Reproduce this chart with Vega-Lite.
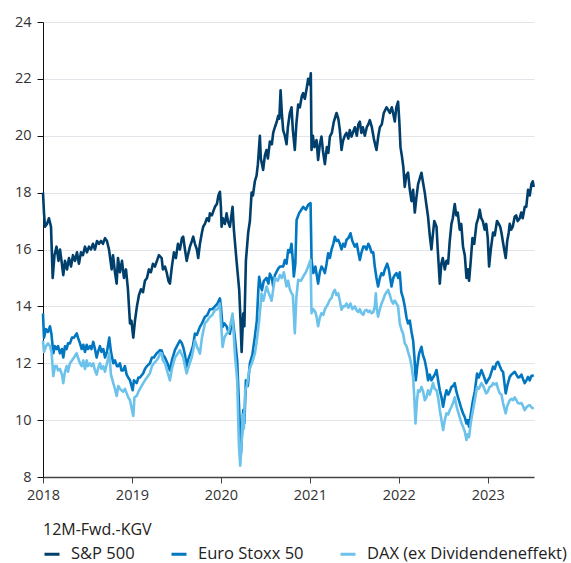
{
"$schema": "https://vega.github.io/schema/vega-lite/v6.json",
"width": 491, "height": 455,
"autosize": "none",
"padding": {"left": 43, "top": 22, "right": 37, "bottom": 86},
"config": {"font": "Open Sans", "view": {"stroke": null}},
"datasets": {
"sp": [
{"t":2018.000,"v":18.0},{"t":2018.011,"v":17.3},{"t":2018.022,"v":16.8},{"t":2018.045,"v":16.9},{"t":2018.067,"v":17.1},{"t":2018.090,"v":16.8},{"t":2018.109,"v":15.0},{"t":2018.129,"v":15.8},{"t":2018.152,"v":16.1},{"t":2018.174,"v":15.6},{"t":2018.191,"v":16.0},{"t":2018.208,"v":15.6},{"t":2018.228,"v":15.1},{"t":2018.247,"v":15.6},{"t":2018.270,"v":15.3},{"t":2018.292,"v":15.7},{"t":2018.315,"v":15.4},{"t":2018.337,"v":15.8},{"t":2018.360,"v":15.6},{"t":2018.382,"v":15.9},{"t":2018.404,"v":15.5},{"t":2018.427,"v":15.9},{"t":2018.449,"v":15.8},{"t":2018.472,"v":16.1},{"t":2018.494,"v":15.9},{"t":2018.517,"v":16.1},{"t":2018.539,"v":16.0},{"t":2018.562,"v":16.2},{"t":2018.584,"v":16.0},{"t":2018.607,"v":16.3},{"t":2018.629,"v":16.2},{"t":2018.652,"v":16.3},{"t":2018.674,"v":16.2},{"t":2018.697,"v":16.4},{"t":2018.719,"v":16.3},{"t":2018.742,"v":16.0},{"t":2018.772,"v":15.3},{"t":2018.787,"v":15.8},{"t":2018.809,"v":15.2},{"t":2018.828,"v":14.8},{"t":2018.843,"v":15.7},{"t":2018.865,"v":15.2},{"t":2018.888,"v":15.6},{"t":2018.910,"v":15.0},{"t":2018.933,"v":15.3},{"t":2018.955,"v":14.6},{"t":2018.978,"v":13.4},{"t":2018.994,"v":13.5},{"t":2019.015,"v":12.9},{"t":2019.034,"v":13.5},{"t":2019.056,"v":14.0},{"t":2019.079,"v":14.4},{"t":2019.101,"v":14.6},{"t":2019.124,"v":14.5},{"t":2019.146,"v":14.9},{"t":2019.169,"v":15.0},{"t":2019.191,"v":15.3},{"t":2019.213,"v":15.2},{"t":2019.236,"v":15.5},{"t":2019.258,"v":15.4},{"t":2019.281,"v":15.6},{"t":2019.303,"v":15.8},{"t":2019.334,"v":15.7},{"t":2019.348,"v":15.3},{"t":2019.371,"v":15.4},{"t":2019.390,"v":15.2},{"t":2019.410,"v":14.9},{"t":2019.427,"v":14.8},{"t":2019.449,"v":15.4},{"t":2019.472,"v":15.9},{"t":2019.494,"v":15.7},{"t":2019.517,"v":16.2},{"t":2019.539,"v":16.0},{"t":2019.562,"v":16.4},{"t":2019.576,"v":16.45},{"t":2019.596,"v":16.0},{"t":2019.615,"v":15.6},{"t":2019.629,"v":15.8},{"t":2019.652,"v":16.1},{"t":2019.674,"v":16.3},{"t":2019.689,"v":16.45},{"t":2019.708,"v":16.2},{"t":2019.730,"v":16.0},{"t":2019.745,"v":15.7},{"t":2019.764,"v":16.2},{"t":2019.787,"v":16.6},{"t":2019.801,"v":16.8},{"t":2019.820,"v":16.9},{"t":2019.843,"v":17.1},{"t":2019.865,"v":17.0},{"t":2019.876,"v":17.27},{"t":2019.899,"v":17.2},{"t":2019.921,"v":17.4},{"t":2019.933,"v":17.5},{"t":2019.955,"v":17.6},{"t":2019.972,"v":17.9},{"t":2019.989,"v":18.03},{"t":2020.000,"v":17.5},{"t":2020.008,"v":16.8},{"t":2020.022,"v":17.1},{"t":2020.045,"v":16.9},{"t":2020.064,"v":17.27},{"t":2020.079,"v":17.0},{"t":2020.101,"v":16.8},{"t":2020.118,"v":17.2},{"t":2020.131,"v":17.5},{"t":2020.146,"v":16.7},{"t":2020.176,"v":15.6},{"t":2020.206,"v":14.57},{"t":2020.219,"v":13.6},{"t":2020.233,"v":12.4},{"t":2020.251,"v":13.75},{"t":2020.264,"v":13.3},{"t":2020.281,"v":15.6},{"t":2020.307,"v":16.6},{"t":2020.326,"v":17.0},{"t":2020.345,"v":18.0},{"t":2020.360,"v":17.9},{"t":2020.382,"v":18.4},{"t":2020.401,"v":18.6},{"t":2020.416,"v":19.0},{"t":2020.438,"v":20.0},{"t":2020.449,"v":19.2},{"t":2020.475,"v":18.8},{"t":2020.494,"v":19.3},{"t":2020.513,"v":19.5},{"t":2020.528,"v":19.2},{"t":2020.551,"v":19.8},{"t":2020.573,"v":19.7},{"t":2020.588,"v":20.1},{"t":2020.607,"v":20.3},{"t":2020.629,"v":20.5},{"t":2020.644,"v":20.7},{"t":2020.657,"v":20.6},{"t":2020.671,"v":21.6},{"t":2020.685,"v":20.8},{"t":2020.700,"v":20.2},{"t":2020.719,"v":20.0},{"t":2020.738,"v":19.7},{"t":2020.753,"v":20.3},{"t":2020.775,"v":20.8},{"t":2020.794,"v":21.0},{"t":2020.809,"v":20.2},{"t":2020.831,"v":19.5},{"t":2020.848,"v":20.4},{"t":2020.869,"v":21.1},{"t":2020.888,"v":21.0},{"t":2020.910,"v":21.4},{"t":2020.925,"v":21.5},{"t":2020.944,"v":21.3},{"t":2020.966,"v":21.7},{"t":2020.981,"v":22.0},{"t":2021.000,"v":21.8},{"t":2021.011,"v":22.2},{"t":2021.019,"v":19.5},{"t":2021.034,"v":20.0},{"t":2021.051,"v":19.6},{"t":2021.075,"v":19.85},{"t":2021.093,"v":19.15},{"t":2021.112,"v":19.7},{"t":2021.131,"v":19.97},{"t":2021.146,"v":19.5},{"t":2021.169,"v":19.0},{"t":2021.191,"v":19.6},{"t":2021.208,"v":19.4},{"t":2021.225,"v":19.97},{"t":2021.247,"v":20.1},{"t":2021.270,"v":20.5},{"t":2021.300,"v":20.8},{"t":2021.320,"v":20.6},{"t":2021.337,"v":20.2},{"t":2021.356,"v":19.5},{"t":2021.371,"v":19.8},{"t":2021.393,"v":20.0},{"t":2021.412,"v":20.1},{"t":2021.433,"v":19.9},{"t":2021.449,"v":20.2},{"t":2021.469,"v":19.97},{"t":2021.483,"v":20.1},{"t":2021.506,"v":20.3},{"t":2021.528,"v":20.0},{"t":2021.545,"v":20.4},{"t":2021.562,"v":20.5},{"t":2021.579,"v":20.1},{"t":2021.596,"v":20.3},{"t":2021.618,"v":20.0},{"t":2021.640,"v":20.3},{"t":2021.657,"v":20.4},{"t":2021.674,"v":20.55},{"t":2021.697,"v":20.3},{"t":2021.719,"v":19.9},{"t":2021.749,"v":19.5},{"t":2021.770,"v":20.0},{"t":2021.787,"v":20.3},{"t":2021.809,"v":20.4},{"t":2021.831,"v":20.8},{"t":2021.862,"v":21.0},{"t":2021.882,"v":20.9},{"t":2021.899,"v":20.8},{"t":2021.921,"v":21.0},{"t":2021.936,"v":20.8},{"t":2021.955,"v":20.5},{"t":2021.972,"v":21.0},{"t":2021.992,"v":21.2},{"t":2022.006,"v":20.5},{"t":2022.019,"v":19.6},{"t":2022.034,"v":19.3},{"t":2022.051,"v":18.9},{"t":2022.067,"v":18.2},{"t":2022.084,"v":18.6},{"t":2022.104,"v":18.7},{"t":2022.124,"v":18.1},{"t":2022.143,"v":17.7},{"t":2022.161,"v":18.1},{"t":2022.180,"v":17.3},{"t":2022.197,"v":17.8},{"t":2022.217,"v":18.3},{"t":2022.236,"v":18.5},{"t":2022.255,"v":18.7},{"t":2022.270,"v":18.4},{"t":2022.292,"v":18.0},{"t":2022.309,"v":17.6},{"t":2022.329,"v":17.15},{"t":2022.348,"v":16.5},{"t":2022.367,"v":16.0},{"t":2022.382,"v":16.5},{"t":2022.399,"v":17.0},{"t":2022.424,"v":16.8},{"t":2022.438,"v":16.0},{"t":2022.461,"v":14.8},{"t":2022.478,"v":15.5},{"t":2022.494,"v":15.7},{"t":2022.517,"v":15.3},{"t":2022.536,"v":15.6},{"t":2022.554,"v":15.5},{"t":2022.573,"v":16.3},{"t":2022.592,"v":16.9},{"t":2022.607,"v":17.1},{"t":2022.629,"v":17.6},{"t":2022.646,"v":17.2},{"t":2022.663,"v":17.3},{"t":2022.685,"v":16.7},{"t":2022.702,"v":16.9},{"t":2022.722,"v":16.1},{"t":2022.742,"v":15.8},{"t":2022.761,"v":15.0},{"t":2022.775,"v":15.3},{"t":2022.790,"v":14.9},{"t":2022.809,"v":15.6},{"t":2022.828,"v":16.4},{"t":2022.848,"v":16.2},{"t":2022.873,"v":16.9},{"t":2022.893,"v":17.1},{"t":2022.910,"v":17.4},{"t":2022.927,"v":17.1},{"t":2022.944,"v":17.0},{"t":2022.966,"v":16.7},{"t":2022.983,"v":16.9},{"t":2023.000,"v":16.4},{"t":2023.015,"v":15.4},{"t":2023.034,"v":16.0},{"t":2023.060,"v":16.6},{"t":2023.079,"v":16.5},{"t":2023.104,"v":17.0},{"t":2023.124,"v":16.9},{"t":2023.140,"v":16.8},{"t":2023.154,"v":16.6},{"t":2023.169,"v":16.3},{"t":2023.185,"v":16.0},{"t":2023.202,"v":15.7},{"t":2023.219,"v":16.3},{"t":2023.236,"v":16.6},{"t":2023.247,"v":16.9},{"t":2023.264,"v":16.7},{"t":2023.281,"v":16.8},{"t":2023.303,"v":17.15},{"t":2023.320,"v":17.2},{"t":2023.337,"v":17.0},{"t":2023.360,"v":17.1},{"t":2023.376,"v":17.3},{"t":2023.393,"v":17.1},{"t":2023.416,"v":17.5},{"t":2023.433,"v":17.5},{"t":2023.453,"v":18.1},{"t":2023.472,"v":17.9},{"t":2023.491,"v":18.3},{"t":2023.506,"v":18.4},{"t":2023.517,"v":18.2}
],
"eu": [
{"t":2018.000,"v":13.75},{"t":2018.011,"v":12.9},{"t":2018.034,"v":13.2},{"t":2018.056,"v":13.1},{"t":2018.079,"v":13.3},{"t":2018.096,"v":13.0},{"t":2018.116,"v":12.35},{"t":2018.135,"v":12.6},{"t":2018.154,"v":12.5},{"t":2018.169,"v":12.6},{"t":2018.191,"v":12.35},{"t":2018.213,"v":12.5},{"t":2018.228,"v":12.2},{"t":2018.247,"v":12.6},{"t":2018.266,"v":12.5},{"t":2018.281,"v":12.7},{"t":2018.303,"v":12.7},{"t":2018.326,"v":12.9},{"t":2018.348,"v":12.9},{"t":2018.379,"v":13.05},{"t":2018.393,"v":12.9},{"t":2018.416,"v":12.7},{"t":2018.435,"v":12.5},{"t":2018.453,"v":12.65},{"t":2018.472,"v":12.4},{"t":2018.491,"v":12.65},{"t":2018.506,"v":12.5},{"t":2018.528,"v":12.6},{"t":2018.545,"v":12.5},{"t":2018.565,"v":12.75},{"t":2018.584,"v":12.5},{"t":2018.603,"v":12.2},{"t":2018.618,"v":12.4},{"t":2018.640,"v":12.6},{"t":2018.657,"v":12.4},{"t":2018.678,"v":12.5},{"t":2018.697,"v":12.2},{"t":2018.719,"v":12.4},{"t":2018.745,"v":12.9},{"t":2018.764,"v":12.4},{"t":2018.790,"v":12.0},{"t":2018.809,"v":12.1},{"t":2018.831,"v":11.9},{"t":2018.846,"v":11.9},{"t":2018.865,"v":12.0},{"t":2018.882,"v":11.75},{"t":2018.902,"v":11.75},{"t":2018.921,"v":11.9},{"t":2018.940,"v":11.6},{"t":2018.958,"v":11.5},{"t":2018.978,"v":11.4},{"t":2019.008,"v":11.05},{"t":2019.022,"v":11.4},{"t":2019.053,"v":11.3},{"t":2019.073,"v":11.5},{"t":2019.090,"v":11.5},{"t":2019.127,"v":11.65},{"t":2019.146,"v":11.8},{"t":2019.169,"v":11.9},{"t":2019.202,"v":12.0},{"t":2019.225,"v":12.2},{"t":2019.247,"v":12.2},{"t":2019.278,"v":12.35},{"t":2019.298,"v":12.4},{"t":2019.315,"v":12.46},{"t":2019.334,"v":12.45},{"t":2019.348,"v":12.3},{"t":2019.371,"v":12.2},{"t":2019.399,"v":12.0},{"t":2019.427,"v":11.75},{"t":2019.449,"v":12.1},{"t":2019.483,"v":12.46},{"t":2019.506,"v":12.6},{"t":2019.539,"v":12.8},{"t":2019.562,"v":12.7},{"t":2019.576,"v":12.57},{"t":2019.596,"v":12.3},{"t":2019.615,"v":11.87},{"t":2019.629,"v":12.1},{"t":2019.671,"v":12.46},{"t":2019.685,"v":12.6},{"t":2019.708,"v":13.04},{"t":2019.730,"v":13.0},{"t":2019.764,"v":13.28},{"t":2019.787,"v":13.4},{"t":2019.820,"v":13.63},{"t":2019.848,"v":13.7},{"t":2019.876,"v":13.9},{"t":2019.904,"v":13.9},{"t":2019.933,"v":14.0},{"t":2019.961,"v":14.1},{"t":2019.989,"v":14.28},{"t":2020.000,"v":14.0},{"t":2020.019,"v":13.28},{"t":2020.039,"v":13.4},{"t":2020.064,"v":13.3},{"t":2020.084,"v":13.1},{"t":2020.101,"v":13.04},{"t":2020.131,"v":13.63},{"t":2020.157,"v":12.9},{"t":2020.183,"v":12.1},{"t":2020.206,"v":10.34},{"t":2020.225,"v":8.82},{"t":2020.236,"v":9.4},{"t":2020.251,"v":10.35},{"t":2020.264,"v":9.9},{"t":2020.281,"v":11.4},{"t":2020.303,"v":11.2},{"t":2020.326,"v":12.0},{"t":2020.354,"v":12.3},{"t":2020.382,"v":12.93},{"t":2020.404,"v":13.5},{"t":2020.421,"v":14.6},{"t":2020.430,"v":15.04},{"t":2020.449,"v":14.7},{"t":2020.461,"v":14.57},{"t":2020.483,"v":14.9},{"t":2020.513,"v":15.0},{"t":2020.534,"v":14.8},{"t":2020.551,"v":15.15},{"t":2020.573,"v":15.0},{"t":2020.588,"v":14.7},{"t":2020.607,"v":15.1},{"t":2020.644,"v":15.33},{"t":2020.663,"v":15.4},{"t":2020.700,"v":15.4},{"t":2020.719,"v":15.63},{"t":2020.738,"v":15.5},{"t":2020.756,"v":15.98},{"t":2020.775,"v":15.9},{"t":2020.794,"v":16.2},{"t":2020.809,"v":15.6},{"t":2020.820,"v":15.05},{"t":2020.837,"v":15.5},{"t":2020.851,"v":17.04},{"t":2020.880,"v":17.28},{"t":2020.904,"v":17.4},{"t":2020.925,"v":17.5},{"t":2020.955,"v":17.4},{"t":2020.981,"v":17.57},{"t":2021.008,"v":17.63},{"t":2021.019,"v":15.63},{"t":2021.039,"v":15.17},{"t":2021.062,"v":15.4},{"t":2021.093,"v":14.8},{"t":2021.112,"v":15.2},{"t":2021.131,"v":15.4},{"t":2021.152,"v":15.3},{"t":2021.169,"v":15.17},{"t":2021.188,"v":15.5},{"t":2021.206,"v":15.87},{"t":2021.225,"v":15.7},{"t":2021.244,"v":16.0},{"t":2021.264,"v":16.2},{"t":2021.281,"v":16.45},{"t":2021.300,"v":16.3},{"t":2021.318,"v":16.34},{"t":2021.337,"v":16.2},{"t":2021.356,"v":16.0},{"t":2021.374,"v":16.2},{"t":2021.393,"v":16.1},{"t":2021.412,"v":16.34},{"t":2021.433,"v":16.4},{"t":2021.457,"v":16.57},{"t":2021.478,"v":16.3},{"t":2021.506,"v":16.1},{"t":2021.528,"v":16.2},{"t":2021.545,"v":15.9},{"t":2021.562,"v":15.63},{"t":2021.581,"v":15.9},{"t":2021.601,"v":16.1},{"t":2021.618,"v":16.1},{"t":2021.637,"v":16.0},{"t":2021.657,"v":16.2},{"t":2021.674,"v":16.1},{"t":2021.693,"v":15.9},{"t":2021.713,"v":15.9},{"t":2021.730,"v":15.4},{"t":2021.749,"v":15.0},{"t":2021.767,"v":14.7},{"t":2021.787,"v":15.0},{"t":2021.806,"v":15.17},{"t":2021.826,"v":15.1},{"t":2021.843,"v":15.3},{"t":2021.869,"v":15.5},{"t":2021.888,"v":15.3},{"t":2021.918,"v":14.7},{"t":2021.938,"v":15.0},{"t":2021.955,"v":15.1},{"t":2021.974,"v":15.17},{"t":2021.994,"v":15.0},{"t":2022.011,"v":15.2},{"t":2022.028,"v":14.5},{"t":2022.048,"v":14.3},{"t":2022.067,"v":14.0},{"t":2022.087,"v":13.6},{"t":2022.104,"v":13.4},{"t":2022.124,"v":13.5},{"t":2022.143,"v":13.1},{"t":2022.161,"v":12.8},{"t":2022.176,"v":12.2},{"t":2022.191,"v":11.4},{"t":2022.208,"v":11.9},{"t":2022.228,"v":12.34},{"t":2022.255,"v":12.58},{"t":2022.270,"v":12.3},{"t":2022.292,"v":12.1},{"t":2022.311,"v":11.8},{"t":2022.329,"v":11.4},{"t":2022.348,"v":11.6},{"t":2022.367,"v":11.4},{"t":2022.385,"v":11.5},{"t":2022.404,"v":11.6},{"t":2022.424,"v":11.76},{"t":2022.442,"v":11.4},{"t":2022.461,"v":11.05},{"t":2022.480,"v":10.8},{"t":2022.498,"v":10.47},{"t":2022.517,"v":10.8},{"t":2022.536,"v":11.05},{"t":2022.556,"v":10.9},{"t":2022.573,"v":11.0},{"t":2022.592,"v":11.17},{"t":2022.610,"v":11.2},{"t":2022.629,"v":11.3},{"t":2022.648,"v":11.0},{"t":2022.666,"v":10.8},{"t":2022.685,"v":10.6},{"t":2022.704,"v":10.4},{"t":2022.722,"v":10.24},{"t":2022.742,"v":10.1},{"t":2022.761,"v":9.88},{"t":2022.775,"v":10.0},{"t":2022.790,"v":9.77},{"t":2022.809,"v":10.2},{"t":2022.834,"v":10.7},{"t":2022.854,"v":11.0},{"t":2022.880,"v":11.64},{"t":2022.899,"v":11.5},{"t":2022.929,"v":11.76},{"t":2022.949,"v":11.6},{"t":2022.983,"v":11.3},{"t":2023.000,"v":11.4},{"t":2023.022,"v":11.5},{"t":2023.042,"v":11.7},{"t":2023.060,"v":11.88},{"t":2023.079,"v":11.8},{"t":2023.098,"v":12.0},{"t":2023.116,"v":12.05},{"t":2023.135,"v":11.9},{"t":2023.154,"v":11.76},{"t":2023.172,"v":11.7},{"t":2023.188,"v":11.3},{"t":2023.202,"v":10.94},{"t":2023.219,"v":11.2},{"t":2023.247,"v":11.52},{"t":2023.266,"v":11.6},{"t":2023.284,"v":11.65},{"t":2023.303,"v":11.7},{"t":2023.322,"v":11.6},{"t":2023.340,"v":11.5},{"t":2023.360,"v":11.52},{"t":2023.379,"v":11.6},{"t":2023.396,"v":11.45},{"t":2023.416,"v":11.3},{"t":2023.435,"v":11.4},{"t":2023.453,"v":11.52},{"t":2023.472,"v":11.4},{"t":2023.491,"v":11.55},{"t":2023.517,"v":11.58}
],
"dax": [
{"t":2018.000,"v":12.8},{"t":2018.011,"v":12.4},{"t":2018.034,"v":12.6},{"t":2018.056,"v":12.7},{"t":2018.079,"v":12.6},{"t":2018.096,"v":12.4},{"t":2018.116,"v":11.55},{"t":2018.135,"v":11.9},{"t":2018.154,"v":11.9},{"t":2018.169,"v":11.75},{"t":2018.191,"v":11.8},{"t":2018.213,"v":11.6},{"t":2018.228,"v":11.3},{"t":2018.247,"v":11.7},{"t":2018.266,"v":11.9},{"t":2018.281,"v":11.7},{"t":2018.303,"v":12.0},{"t":2018.326,"v":12.1},{"t":2018.348,"v":12.2},{"t":2018.379,"v":12.35},{"t":2018.393,"v":12.2},{"t":2018.416,"v":12.0},{"t":2018.435,"v":11.9},{"t":2018.453,"v":12.1},{"t":2018.472,"v":11.8},{"t":2018.491,"v":12.1},{"t":2018.506,"v":11.9},{"t":2018.528,"v":12.0},{"t":2018.545,"v":11.9},{"t":2018.565,"v":12.0},{"t":2018.584,"v":11.75},{"t":2018.603,"v":11.6},{"t":2018.618,"v":11.8},{"t":2018.640,"v":12.0},{"t":2018.657,"v":11.8},{"t":2018.678,"v":11.9},{"t":2018.697,"v":11.7},{"t":2018.719,"v":12.0},{"t":2018.745,"v":12.35},{"t":2018.764,"v":11.6},{"t":2018.790,"v":11.3},{"t":2018.809,"v":11.1},{"t":2018.828,"v":10.85},{"t":2018.846,"v":11.2},{"t":2018.865,"v":11.1},{"t":2018.882,"v":11.05},{"t":2018.902,"v":11.0},{"t":2018.921,"v":11.1},{"t":2018.940,"v":10.95},{"t":2018.958,"v":10.8},{"t":2018.978,"v":10.7},{"t":2019.015,"v":10.15},{"t":2019.028,"v":10.8},{"t":2019.053,"v":10.85},{"t":2019.073,"v":11.0},{"t":2019.090,"v":11.1},{"t":2019.127,"v":11.3},{"t":2019.146,"v":11.4},{"t":2019.169,"v":11.5},{"t":2019.202,"v":11.65},{"t":2019.225,"v":11.9},{"t":2019.247,"v":12.0},{"t":2019.278,"v":12.1},{"t":2019.298,"v":12.2},{"t":2019.315,"v":12.34},{"t":2019.334,"v":12.35},{"t":2019.348,"v":12.1},{"t":2019.371,"v":12.0},{"t":2019.399,"v":11.7},{"t":2019.427,"v":11.4},{"t":2019.449,"v":11.8},{"t":2019.483,"v":12.2},{"t":2019.506,"v":12.3},{"t":2019.539,"v":12.46},{"t":2019.562,"v":12.3},{"t":2019.576,"v":12.2},{"t":2019.596,"v":11.9},{"t":2019.615,"v":11.64},{"t":2019.629,"v":11.8},{"t":2019.671,"v":12.2},{"t":2019.685,"v":12.4},{"t":2019.708,"v":12.8},{"t":2019.730,"v":12.6},{"t":2019.764,"v":12.34},{"t":2019.787,"v":12.9},{"t":2019.820,"v":13.4},{"t":2019.848,"v":13.5},{"t":2019.876,"v":13.63},{"t":2019.904,"v":13.7},{"t":2019.933,"v":13.87},{"t":2019.961,"v":13.9},{"t":2019.989,"v":14.1},{"t":2020.000,"v":13.5},{"t":2020.019,"v":12.57},{"t":2020.039,"v":12.9},{"t":2020.064,"v":13.04},{"t":2020.084,"v":13.1},{"t":2020.101,"v":13.28},{"t":2020.131,"v":13.75},{"t":2020.157,"v":12.34},{"t":2020.183,"v":11.4},{"t":2020.202,"v":9.17},{"t":2020.217,"v":8.4},{"t":2020.230,"v":9.0},{"t":2020.244,"v":10.2},{"t":2020.258,"v":9.7},{"t":2020.273,"v":11.04},{"t":2020.292,"v":11.2},{"t":2020.318,"v":11.75},{"t":2020.348,"v":12.0},{"t":2020.382,"v":12.34},{"t":2020.404,"v":12.8},{"t":2020.430,"v":13.5},{"t":2020.457,"v":14.45},{"t":2020.477,"v":14.2},{"t":2020.513,"v":14.7},{"t":2020.534,"v":14.5},{"t":2020.570,"v":14.2},{"t":2020.607,"v":15.0},{"t":2020.640,"v":14.9},{"t":2020.663,"v":15.1},{"t":2020.685,"v":15.0},{"t":2020.708,"v":15.2},{"t":2020.738,"v":14.7},{"t":2020.756,"v":14.9},{"t":2020.775,"v":14.6},{"t":2020.794,"v":14.46},{"t":2020.809,"v":14.4},{"t":2020.831,"v":13.06},{"t":2020.848,"v":14.3},{"t":2020.869,"v":14.93},{"t":2020.899,"v":14.9},{"t":2020.925,"v":15.05},{"t":2020.955,"v":15.2},{"t":2020.981,"v":15.4},{"t":2021.008,"v":15.63},{"t":2021.019,"v":13.76},{"t":2021.039,"v":13.9},{"t":2021.062,"v":13.8},{"t":2021.075,"v":13.64},{"t":2021.093,"v":13.3},{"t":2021.112,"v":13.6},{"t":2021.131,"v":13.76},{"t":2021.152,"v":13.7},{"t":2021.169,"v":13.9},{"t":2021.188,"v":14.0},{"t":2021.206,"v":14.1},{"t":2021.225,"v":14.23},{"t":2021.244,"v":14.3},{"t":2021.264,"v":14.5},{"t":2021.281,"v":14.58},{"t":2021.300,"v":14.4},{"t":2021.318,"v":14.46},{"t":2021.337,"v":14.2},{"t":2021.356,"v":13.88},{"t":2021.374,"v":14.0},{"t":2021.393,"v":14.0},{"t":2021.412,"v":14.1},{"t":2021.433,"v":13.95},{"t":2021.457,"v":14.1},{"t":2021.478,"v":13.9},{"t":2021.506,"v":14.0},{"t":2021.528,"v":13.85},{"t":2021.545,"v":13.8},{"t":2021.562,"v":13.9},{"t":2021.581,"v":13.76},{"t":2021.601,"v":13.7},{"t":2021.618,"v":13.85},{"t":2021.637,"v":13.88},{"t":2021.657,"v":13.8},{"t":2021.674,"v":13.85},{"t":2021.693,"v":13.76},{"t":2021.713,"v":13.8},{"t":2021.730,"v":14.0},{"t":2021.742,"v":14.46},{"t":2021.753,"v":13.9},{"t":2021.767,"v":13.64},{"t":2021.787,"v":13.9},{"t":2021.806,"v":14.1},{"t":2021.824,"v":14.23},{"t":2021.843,"v":14.4},{"t":2021.862,"v":14.5},{"t":2021.880,"v":14.58},{"t":2021.899,"v":14.4},{"t":2021.918,"v":14.2},{"t":2021.936,"v":14.1},{"t":2021.955,"v":14.2},{"t":2021.974,"v":14.1},{"t":2021.992,"v":14.0},{"t":2022.011,"v":13.4},{"t":2022.031,"v":13.17},{"t":2022.048,"v":13.05},{"t":2022.067,"v":12.7},{"t":2022.087,"v":12.6},{"t":2022.104,"v":12.4},{"t":2022.124,"v":12.2},{"t":2022.143,"v":11.9},{"t":2022.161,"v":11.5},{"t":2022.174,"v":10.8},{"t":2022.188,"v":9.88},{"t":2022.202,"v":10.6},{"t":2022.217,"v":11.05},{"t":2022.236,"v":11.0},{"t":2022.255,"v":11.17},{"t":2022.274,"v":11.0},{"t":2022.292,"v":10.7},{"t":2022.311,"v":10.8},{"t":2022.329,"v":11.05},{"t":2022.348,"v":10.9},{"t":2022.367,"v":11.1},{"t":2022.385,"v":11.3},{"t":2022.404,"v":11.1},{"t":2022.424,"v":11.05},{"t":2022.442,"v":10.8},{"t":2022.461,"v":10.35},{"t":2022.480,"v":10.0},{"t":2022.498,"v":9.65},{"t":2022.517,"v":10.0},{"t":2022.536,"v":10.24},{"t":2022.556,"v":10.2},{"t":2022.573,"v":10.35},{"t":2022.592,"v":10.47},{"t":2022.610,"v":10.6},{"t":2022.629,"v":10.8},{"t":2022.648,"v":10.5},{"t":2022.666,"v":10.3},{"t":2022.685,"v":10.1},{"t":2022.704,"v":9.9},{"t":2022.722,"v":9.77},{"t":2022.742,"v":9.6},{"t":2022.761,"v":9.3},{"t":2022.775,"v":9.5},{"t":2022.790,"v":9.4},{"t":2022.809,"v":9.9},{"t":2022.834,"v":10.35},{"t":2022.854,"v":10.7},{"t":2022.880,"v":11.17},{"t":2022.899,"v":11.1},{"t":2022.929,"v":11.3},{"t":2022.949,"v":11.2},{"t":2022.983,"v":10.94},{"t":2023.000,"v":11.0},{"t":2023.022,"v":11.17},{"t":2023.042,"v":11.2},{"t":2023.060,"v":11.3},{"t":2023.079,"v":11.25},{"t":2023.098,"v":11.3},{"t":2023.116,"v":11.1},{"t":2023.135,"v":10.94},{"t":2023.154,"v":10.9},{"t":2023.172,"v":10.6},{"t":2023.188,"v":10.4},{"t":2023.202,"v":10.24},{"t":2023.219,"v":10.5},{"t":2023.247,"v":10.7},{"t":2023.266,"v":10.75},{"t":2023.284,"v":10.7},{"t":2023.303,"v":10.8},{"t":2023.322,"v":10.7},{"t":2023.340,"v":10.6},{"t":2023.360,"v":10.58},{"t":2023.379,"v":10.6},{"t":2023.396,"v":10.5},{"t":2023.416,"v":10.35},{"t":2023.435,"v":10.45},{"t":2023.453,"v":10.5},{"t":2023.472,"v":10.53},{"t":2023.491,"v":10.45},{"t":2023.517,"v":10.4}
]
},
"encoding": {
  "x": {"field": "t", "type": "quantitative", "scale": {"domain": [2018, 2023.52], "nice": false, "zero": false},
        "axis": {"values": [2018, 2019, 2020, 2021, 2022, 2023], "format": "d", "title": null, "grid": false, "domainColor": "#444444", "domainWidth": 1.5, "tickColor": "#444444", "tickSize": 6, "labelFontSize": 14.5, "labelColor": "#333333", "labelPadding": 5, "labelFlush": false}},
  "y": {"field": "v", "type": "quantitative", "scale": {"domain": [8, 24], "nice": false, "zero": false},
        "axis": {"values": [8, 10, 12, 14, 16, 18, 20, 22, 24], "title": null, "grid": true, "gridColor": "#e1e5e9", "gridWidth": 1, "domainColor": "#111111", "tickColor": "#111111", "tickSize": 6, "labelFontSize": 14.5, "labelColor": "#333333", "labelPadding": 6}},
  "color": {"field": "k", "type": "nominal",
        "scale": {"domain": ["S&P 500", "Euro Stoxx 50", "DAX (ex Dividendeneffekt)"], "range": ["#003f6b", "#0077c0", "#6cc2ea"]},
        "legend": {"title": "12M-Fwd.-KGV", "orient": "none", "legendX": 0, "legendY": 500, "direction": "horizontal", "symbolType": "stroke", "symbolSize": 225, "symbolStrokeWidth": 3, "labelFontSize": 16.5, "labelLimit": 400, "labelColor": "#222222", "titleFontSize": 16, "titleColor": "#222222", "titleFontWeight": "normal", "columnPadding": 30, "labelOffset": 10, "titlePadding": 7}}
},
"layer": [
  {"data": {"name": "sp"}, "mark": {"type": "line", "strokeWidth": 2.6, "strokeJoin": "round"}, "encoding": {"color": {"datum": "S&P 500"}}},
  {"data": {"name": "eu"}, "mark": {"type": "line", "strokeWidth": 2.6, "strokeJoin": "round"}, "encoding": {"color": {"datum": "Euro Stoxx 50"}}},
  {"data": {"name": "dax"}, "mark": {"type": "line", "strokeWidth": 2.6, "strokeJoin": "round"}, "encoding": {"color": {"datum": "DAX (ex Dividendeneffekt)"}}}
]
}
